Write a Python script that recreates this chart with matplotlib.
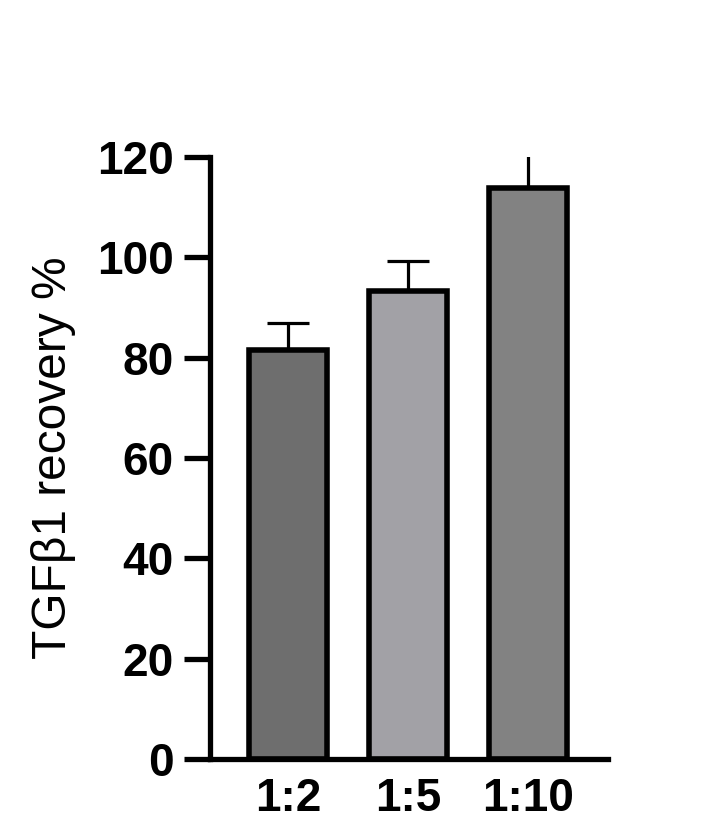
import matplotlib.pyplot as plt

ratios = ["1:2", "1:5", "1:10"]
recovery = [81.5, 93.2, 113.8]
sd = [5.5, 6.1, 7.0]
bar_colors = ["#6e6e6e", "#a2a1a6", "#828282"]

plt.rcParams['font.family'] = ['Liberation Sans', 'DejaVu Sans']

fig = plt.figure(figsize=(7.21, 8.26), dpi=100)
ax = fig.add_axes([210 / 721, 67 / 826, 398 / 721, 602 / 826])

x = list(range(len(ratios)))
eb = ax.errorbar(x, recovery, yerr=[[0] * len(sd), sd], fmt="none", ecolor="black",
                 elinewidth=2.3, capsize=15, capthick=2.3, zorder=1)
# caps above the axis top are cut off like in the original
for art in list(eb.lines[1]) + list(eb.lines[2]):
    art.set_clip_on(True)
    art.set_clip_box(ax.bbox)
ax.bar(x, recovery, width=0.65, color=bar_colors, edgecolor="black",
       linewidth=4, zorder=2)

ax.set_xlim(-0.65, 2.667)
ax.set_ylim(0, 120)
ax.set_yticks([0, 20, 40, 60, 80, 100, 120])
ax.set_xticks(x)
ax.set_xticklabels(ratios)

for s in ["top", "right"]:
    ax.spines[s].set_visible(False)
for s in ["left", "bottom"]:
    ax.spines[s].set_linewidth(3.8)
    ax.spines[s].set_capstyle("projecting")

ax.tick_params(axis="y", length=19, width=3.8, labelsize=33, pad=7)
ax.tick_params(axis="x", length=0, labelsize=33, pad=13)
for lab in ax.get_xticklabels() + ax.get_yticklabels():
    lab.set_fontweight("bold")

ax.set_ylabel("TGF\u03b21 recovery %", fontsize=34.5, labelpad=15)

fig.savefig("out.png", dpi=100)
